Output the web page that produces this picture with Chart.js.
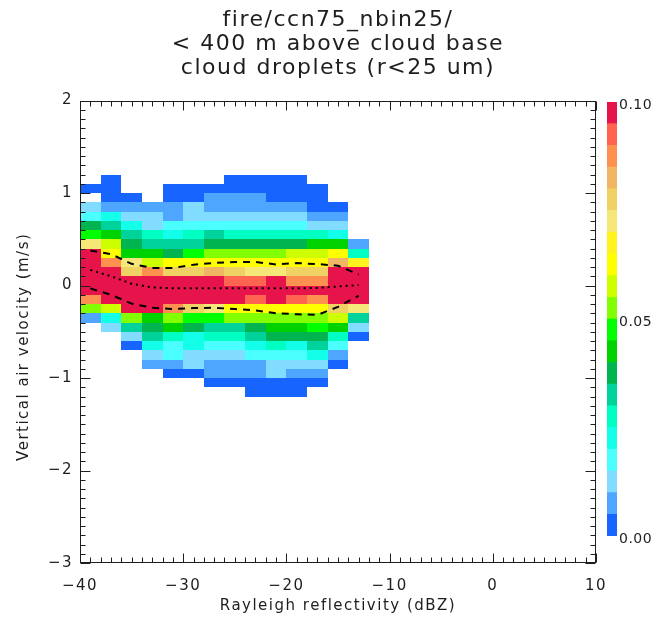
<!DOCTYPE html>
<html lang="en">
<head>
  <meta charset="UTF-8"/>
  <title>fire/ccn75_nbin25 - vertical velocity vs reflectivity</title>
  <script src="https://cdn.jsdelivr.net/npm/chart.js"></script>
  <style>
    body {
      margin: 0;
      background: #fff;
    }
    .wrap {
      position: relative;
      width: 656px;
      height: 625px;
    }
    #histChart {
      position: absolute;
      left: 0;
      top: 0;
    }
    #barChart {
      position: absolute;
      left: 600px;
      top: 90px;
    }
  </style>
</head>
<body>

<div class="wrap">
  <canvas id="histChart" width="656" height="625"></canvas>
  <canvas id="barChart" width="56" height="460"></canvas>
</div>

<script>
  // reflectivity bins (left edge, dBZ) and velocity bins (bottom edge, m/s)
  const dbzEdges = [-40, -38, -36, -34, -32, -30, -28, -26, -24, -22, -20, -18, -16, -14];
  const dbzWidth = 2;
  const wEdges = [1.1, 1.0, 0.9, 0.8, 0.7, 0.6, 0.5, 0.4, 0.3, 0.2, 0.1, 0.0,
                  -0.1, -0.2, -0.3, -0.4, -0.5, -0.6, -0.7, -0.8, -0.9, -1.0, -1.1, -1.2];
  const wWidth = 0.1;

  // normalised frequency, one row per velocity bin (same order as wEdges)
  const freq = [
    [0, .003, 0, 0, 0, 0, 0, .003, .003, .003, .003, 0, 0, 0],
    [.003, .003, 0, 0, .003, .003, .003, .003, .003, .003, .003, .003, 0, 0],
    [0, .003, .003, 0, .003, .003, .008, .008, .008, .003, .003, .003, 0, 0],
    [.013, .008, .008, .008, .008, .013, .008, .008, .008, .008, .008, .003, .003, 0],
    [.018, .023, .013, .013, .008, .013, .013, .013, .013, .013, .013, .008, .008, 0],
    [.038, .033, .023, .013, .018, .018, .018, .018, .018, .018, .018, .013, .013, 0],
    [.048, .043, .033, .028, .023, .028, .033, .028, .028, .028, .028, .028, .023, 0],
    [.073, .058, .038, .033, .033, .033, .038, .038, .038, .038, .038, .043, .043, .008],
    [.100, .063, .043, .043, .038, .048, .053, .053, .053, .053, .058, .058, .063, .028],
    [.100, .088, .073, .058, .063, .063, .063, .063, .063, .063, .063, .063, .083, .068],
    [.100, .100, .078, .088, .078, .078, .083, .078, .073, .073, .078, .078, .100, .100],
    [.100, .100, .100, .100, .100, .100, .100, .093, .093, .100, .088, .088, .100, .100],
    [.100, .100, .100, .100, .100, .100, .100, .100, .100, .100, .100, .100, .100, .100],
    [.088, .100, .100, .100, .100, .100, .100, .100, .093, .100, .093, .088, .100, .100],
    [.053, .058, .100, .100, .088, .078, .073, .063, .063, .063, .063, .063, .078, .073],
    [.008, .023, .053, .043, .053, .048, .048, .053, .053, .053, .053, .053, .058, .033],
    [0, .013, .033, .038, .043, .038, .033, .033, .038, .043, .043, .048, .043, .013],
    [0, 0, .013, .033, .028, .023, .028, .028, .033, .038, .038, .038, .028, .003],
    [0, 0, .003, .023, .018, .023, .018, .018, .023, .028, .023, .033, .018, 0],
    [0, 0, 0, .013, .018, .013, .013, .013, .018, .018, .018, .023, .008, 0],
    [0, 0, 0, .008, .008, .013, .008, .008, .008, .013, .013, .013, .003, 0],
    [0, 0, 0, 0, .003, .003, .008, .008, .008, .013, .008, .008, 0, 0],
    [0, 0, 0, 0, 0, 0, .003, .003, .003, .003, .003, .003, 0, 0],
    [0, 0, 0, 0, 0, 0, 0, 0, .003, .003, .003, 0, 0, 0]
  ];

  // profile lines at the bin centres
  const dbzMid = [-39, -37, -35, -33, -31, -29, -27, -25, -23, -21, -19, -17, -15, -13];
  const wUpper = [0.38, 0.34, 0.235, 0.19, 0.19, 0.225, 0.245, 0.255, 0.255, 0.228, 0.243, 0.232, 0.215, 0.12];
  const wMean  = [0.17, 0.10, 0.02, -0.02, -0.03, -0.03, -0.03, -0.03, -0.03, -0.03, -0.03, -0.025, -0.01, 0.005];
  const wLower = [-0.03, -0.10, -0.195, -0.24, -0.254, -0.243, -0.24, -0.254, -0.268, -0.30, -0.31, -0.318, -0.23, -0.11];

  // colour table: 20 levels of 0.005 from 0.00 to 0.10
  const levelStep = 0.005;
  const levelColors = [
    "#1864ff", "#4ea6ff", "#82dcff", "#4cffff", "#14ffea",
    "#00ffc3", "#00d29c", "#00b450", "#00d200", "#00ff00",
    "#82ff00", "#cdff00", "#ffff00", "#fff21e", "#f5e878",
    "#f0d264", "#f0b664", "#ff9150", "#ff6450", "#e6144b"
  ];
  const cbarTicks = [0, 0.05, 0.1];

  const FONT = "'DejaVu Sans', sans-serif";
  const INK = "#1e1e1e";
  const yTitle = "Vertical air velocity (m/s)";

  function colorFor(v) {
    const i = Math.min(levelColors.length - 1, Math.floor(v / levelStep + 1e-9));
    return levelColors[i];
  }

  function minusLabel(v) {
    return v < 0 ? "\u2212" + Math.abs(v) : String(v);
  }

  function spacing(px) {
    return {
      id: "letterSpacing",
      beforeDraw(chart) { chart.ctx.letterSpacing = px; }
    };
  }

  // histogram cells, painted under the profile lines
  const heatCells = {
    id: "heatCells",
    beforeDatasetsDraw(chart) {
      const { ctx, scales: { x, y } } = chart;
      ctx.save();
      freq.forEach((row, r) => {
        const top = Math.round(y.getPixelForValue(wEdges[r] + wWidth));
        const bot = Math.round(y.getPixelForValue(wEdges[r]));
        row.forEach((v, c) => {
          if (!v) return;
          const left = Math.round(x.getPixelForValue(dbzEdges[c]));
          const right = Math.round(x.getPixelForValue(dbzEdges[c] + dbzWidth));
          ctx.fillStyle = colorFor(v);
          ctx.fillRect(left, top, right - left, bot - top);
        });
      });
      ctx.restore();
    }
  };

  // box frame with inward major/minor ticks on all four sides, plus the y title
  const frameTicks = {
    id: "frameTicks",
    afterDraw(chart) {
      const { ctx, chartArea: a, scales: { x, y } } = chart;
      const L = Math.round(a.left) + 0.5, R = Math.round(a.right) - 0.5;
      const T = Math.round(a.top) + 0.5, B = Math.round(a.bottom) - 0.5;
      ctx.save();
      ctx.strokeStyle = INK;
      ctx.lineWidth = 1;
      ctx.strokeRect(L, T, R - L, B - T);
      ctx.beginPath();
      for (let i = 0; i <= 50; i++) {
        const px = Math.round(x.getPixelForValue(x.min + i)) + 0.5;
        const len = i % 10 === 0 ? 9 : 5;
        ctx.moveTo(px, B); ctx.lineTo(px, B - len);
        ctx.moveTo(px, T); ctx.lineTo(px, T + len);
      }
      for (let i = 0; i <= 50; i++) {
        const py = Math.round(y.getPixelForValue(y.min + i * 0.1)) + 0.5;
        const len = i % 10 === 0 ? 10 : 5;
        ctx.moveTo(L, py); ctx.lineTo(L + len, py);
        ctx.moveTo(R, py); ctx.lineTo(R - len, py);
      }
      ctx.stroke();

      ctx.fillStyle = INK;
      ctx.font = "15px " + FONT;
      ctx.textAlign = "left";
      ctx.textBaseline = "middle";
      const w = ctx.measureText(yTitle).width;
      ctx.translate(24, (a.top + a.bottom) / 2 + 15);
      ctx.rotate(-Math.PI / 2);
      ctx.fillText(yTitle, -w / 2, 0);
      ctx.restore();
    }
  };

  const toPoints = ys => dbzMid.map((d, i) => ({ x: d, y: ys[i] }));

  new Chart(document.getElementById("histChart"), {
    type: "line",
    data: {
      datasets: [
        { data: toPoints(wUpper), borderColor: "#000", borderWidth: 2, borderDash: [7, 6], pointRadius: 0 },
        { data: toPoints(wMean), borderColor: "#000", borderWidth: 2, borderDash: [2, 4], pointRadius: 0 },
        { data: toPoints(wLower), borderColor: "#000", borderWidth: 2, borderDash: [7, 6], pointRadius: 0 }
      ]
    },
    options: {
      responsive: false,
      animation: false,
      devicePixelRatio: 1,
      layout: { padding: { left: 0, right: 60, top: 0, bottom: 0 } },
      plugins: {
        legend: { display: false },
        tooltip: { enabled: false },
        title: {
          display: true,
          fullSize: false,
          text: ["fire/ccn75_nbin25/", "< 400 m above cloud base", "cloud droplets (r<25 um)"],
          color: INK,
          font: { family: FONT, size: 22, weight: "normal", lineHeight: 1.1 },
          padding: { top: 8, bottom: 20 }
        }
      },
      scales: {
        x: {
          type: "linear",
          min: -40,
          max: 10,
          grid: { display: false, drawTicks: false },
          border: { display: false },
          ticks: {
            stepSize: 10,
            autoSkip: false,
            maxRotation: 0,
            padding: 14,
            color: INK,
            font: { family: FONT, size: 15 },
            callback: minusLabel
          },
          title: {
            display: true,
            text: "Rayleigh reflectivity (dBZ)",
            color: INK,
            font: { family: FONT, size: 15 },
            padding: { top: 0, bottom: 10 }
          },
          afterFit(s) { s.height = 62; }
        },
        y: {
          type: "linear",
          min: -3,
          max: 2,
          grid: { display: false, drawTicks: false },
          border: { display: false },
          ticks: {
            stepSize: 1,
            padding: 7,
            color: INK,
            font: { family: FONT, size: 15 },
            callback: minusLabel
          },
          afterFit(s) { s.width = 80; }
        }
      }
    },
    plugins: [spacing("1.5px"), heatCells, frameTicks]
  });

  // colour bar: one stacked segment per level
  new Chart(document.getElementById("barChart"), {
    type: "bar",
    data: {
      labels: [""],
      datasets: levelColors.map(c => ({
        data: [levelStep],
        backgroundColor: c,
        borderWidth: 0,
        barPercentage: 1,
        categoryPercentage: 1
      }))
    },
    options: {
      responsive: false,
      animation: false,
      devicePixelRatio: 1,
      layout: { padding: { left: 7, top: 12, bottom: 14, right: 0 } },
      plugins: { legend: { display: false }, tooltip: { enabled: false } },
      scales: {
        x: { stacked: true, display: false },
        y: {
          stacked: true,
          position: "right",
          min: 0,
          max: 0.1,
          grid: { display: false, drawTicks: false },
          border: { display: false },
          afterBuildTicks(s) { s.ticks = cbarTicks.map(v => ({ value: v })); },
          ticks: {
            padding: 2,
            labelOffset: 3,
            color: INK,
            font: { family: FONT, size: 14 },
            callback: v => v.toFixed(2)
          },
          afterFit(s) { s.width = 39; }
        }
      }
    },
    plugins: [spacing("0.5px")]
  });
</script>

</body>
</html>
